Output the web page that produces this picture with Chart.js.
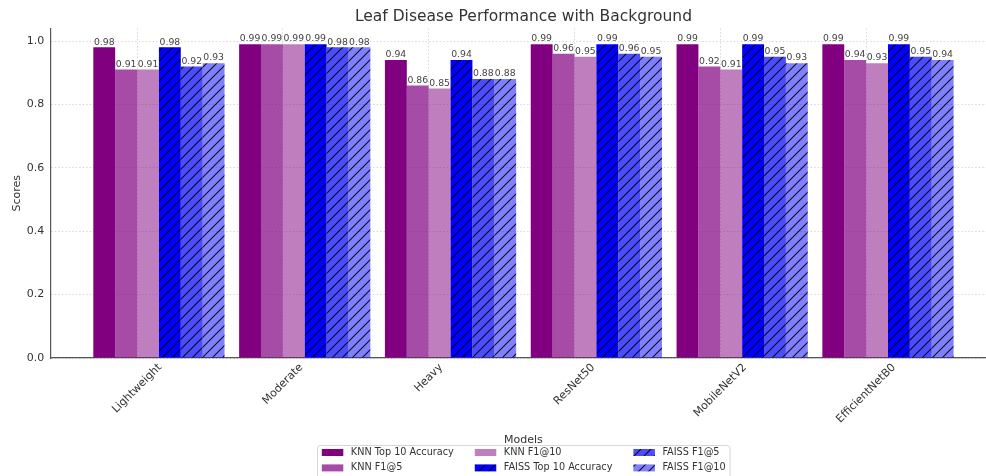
<!DOCTYPE html>
<html><head><meta charset="utf-8">
<script src="https://cdn.jsdelivr.net/npm/chart.js@4.4.1/dist/chart.umd.min.js"></script>
<style>
html,body{margin:0;padding:0;background:#fff;overflow:hidden;width:986px;height:476px}
#wrap{position:relative;width:1000px;height:476px}
</style></head>
<body><div id="wrap"><canvas id="c" width="1000" height="476"></canvas></div>
<script>
// ---- data ----
const categories = ['Lightweight','Moderate','Heavy','ResNet50','MobileNetV2','EfficientNetB0'];
const seriesNames = ['KNN Top 10 Accuracy','KNN F1@5','KNN F1@10','FAISS Top 10 Accuracy','FAISS F1@5','FAISS F1@10'];
const knnTop10   = [0.98,0.99,0.94,0.99,0.99,0.99];
const knnF1at5   = [0.91,0.99,0.86,0.96,0.92,0.94];
const knnF1at10  = [0.91,0.99,0.85,0.95,0.91,0.93];
const faissTop10 = [0.98,0.99,0.94,0.99,0.99,0.99];
const faissF1at5 = [0.92,0.98,0.88,0.96,0.95,0.95];
const faissF1at10= [0.93,0.98,0.88,0.95,0.93,0.94];
const yTicks = [0,0.2,0.4,0.6,0.8,1.0];
const seriesValues = [knnTop10,knnF1at5,knnF1at10,faissTop10,faissF1at5,faissF1at10];

// ---- styles ----
const baseRGB = ['128,0,128','128,0,128','128,0,128','0,0,255','0,0,255','0,0,255'];
const alphas = [1,0.7,0.5,1,0.7,0.5];
const hatched = [false,false,false,true,true,true];
const FONT = '"DejaVu Sans", "Liberation Sans", sans-serif';
const TXT = '#333';
const GRID = 'rgba(0,0,0,0.2)';

function hatchPattern(rgb, a){
  const s = 10;
  const c = document.createElement('canvas');
  c.width = s; c.height = s;
  const g = c.getContext('2d');
  g.fillStyle = `rgba(${rgb},${a})`;
  g.fillRect(0,0,s,s);
  g.strokeStyle = 'rgba(0,0,0,0.88)';
  g.lineWidth = 1.15;
  g.beginPath();
  g.moveTo(-1,s+1); g.lineTo(s+1,-1);
  g.moveTo(-1-s,s+1); g.lineTo(1,-1);
  g.moveTo(s-1,s+1); g.lineTo(2*s+1,-1);
  g.stroke();
  return document.getElementById('c').getContext('2d').createPattern(c,'repeat');
}
const fills = baseRGB.map((rgb,i)=> hatched[i] ? hatchPattern(rgb, alphas[i]) : `rgba(${rgb},${alphas[i]})`);

const datasets = seriesNames.map((name,i)=>({
  label: name,
  data: categories.map((c,k)=>({x:k, y:seriesValues[i][k]})),
  backgroundColor: fills[i],
  borderWidth: 0,
  categoryPercentage: 0.9,
  barPercentage: 1.0
}));

const mctx = document.createElement('canvas').getContext('2d');
mctx.font = '11px ' + FONT;
const GROUP_SHIFT = 0.15; // tick sits 0.15 category left of the group centre

// centre the 45° rotated tick labels on their ticks (matplotlib ha='center')
const centreRotated = {
  id:'centreRotated',
  beforeDraw(chart){
    const sc = chart.scales.x;
    sc.getLabelItems().forEach(it=>{
      if (it._shifted) return;
      const w = mctx.measureText(String(it.label)).width;
      it.options.translation[0] += 0.354 * w;
      it._shifted = true;
    });
  }
};

const valueLabels = {
  id:'valueLabels',
  afterDatasetsDraw(chart){
    const ctx = chart.ctx;
    ctx.save();
    ctx.font = '9.3px ' + FONT;
    ctx.fillStyle = '#444';
    ctx.textAlign = 'center';
    ctx.textBaseline = 'bottom';
    chart.data.datasets.forEach((ds,i)=>{
      const meta = chart.getDatasetMeta(i);
      meta.data.forEach((el,k)=>{
        ctx.fillText(ds.data[k].y.toFixed(2), el.x, el.y - 0.5);
      });
    });
    ctx.restore();
  }
};

const mplLegend = {
  id:'mplLegend',
  afterDraw(chart){
    const ctx = chart.ctx;
    ctx.save();
    ctx.font = '9.7px ' + FONT;
    const ds = chart.data.datasets;
    const cols = 3, rows = 2;
    const sw = 21.5, sh = 7, gap = 7.5, colGap = 21, pad = 4.3;
    const colW = [];
    for (let c=0;c<cols;c++){
      let m = 0;
      for (let r=0;r<rows;r++){ const d = ds[c*rows+r]; if (d) m = Math.max(m, ctx.measureText(d.label).width); }
      colW.push(m);
    }
    const total = colW.reduce((a,w)=>a+sw+gap+w,0) + colGap*(cols-1);
    const boxW = total + 2*pad;
    const cx = (chart.chartArea.left + chart.chartArea.right)/2;
    const left = Math.round(cx - boxW/2) + 0.5;
    const top = 445.5;
    ctx.beginPath();
    ctx.roundRect(left, top, boxW, 50, 3);
    ctx.fillStyle = 'rgba(255,255,255,0.8)';
    ctx.fill();
    ctx.strokeStyle = '#d6d6d6';
    ctx.lineWidth = 1;
    ctx.stroke();
    let x = left + pad;
    for (let c=0;c<cols;c++){
      for (let r=0;r<rows;r++){
        const d = ds[c*rows+r]; if (!d) continue;
        const yc = top + 7 + r*15.4;
        ctx.fillStyle = d.backgroundColor;
        ctx.fillRect(x, yc - sh/2, sw, sh);
        ctx.fillStyle = TXT;
        ctx.textBaseline = 'middle';
        ctx.textAlign = 'left';
        ctx.fillText(d.label, x + sw + gap, yc);
      }
      x += sw + gap + colW[c] + colGap;
    }
    ctx.restore();
  }
};

new Chart(document.getElementById('c'), {
  type:'bar',
  data:{ datasets },
  options:{
    responsive:false,
    animation:false,
    devicePixelRatio:1,
    layout:{ padding:{ left:0, right:3.4, top:0, bottom:29 } },
    plugins:{
      legend:{ display:false },
      tooltip:{ enabled:false },
      title:{
        display:true,
        text:'Leaf Disease Performance with Background',
        fullSize:false,
        color:TXT,
        font:{ family:FONT, size:15.5, weight:'normal', lineHeight:1.2 },
        padding:{ top:7.7, bottom:2.2 }
      }
    },
    scales:{
      x:{
        type:'linear',
        min:-0.745, max:5.745,
        offset:false,
        afterBuildTicks(axis){ axis.ticks = categories.map((c,k)=>({value:k - GROUP_SHIFT})); },
        afterFit(axis){ axis.height = 89; },
        ticks:{
          autoSkip:false,
          minRotation:45, maxRotation:45,
          padding:3,
          color:TXT,
          font:{ family:FONT, size:11 },
          callback:(v)=> categories[Math.round(v + GROUP_SHIFT)]
        },
        grid:{ display:true, offset:false, drawTicks:false, color:GRID, lineWidth:0.8 },
        border:{ display:true, color:'#555', width:1.2, dash:[1.5,2] },
        title:{ display:true, text:'Models', color:TXT, font:{ family:FONT, size:11 }, padding:{ top:0, bottom:0.5 } }
      },
      y:{
        type:'linear',
        min:0, max:1.0395,
        afterBuildTicks(axis){ axis.ticks = yTicks.map(v=>({value:v})); },
        afterFit(axis){ axis.width = 50.3; },
        ticks:{
          padding:6, color:TXT,
          font:{ family:FONT, size:11 },
          callback:(v)=> v.toFixed(1)
        },
        grid:{ display:true, offset:false, drawTicks:false, color:GRID, lineWidth:0.8 },
        border:{ display:true, color:'#555', width:1.2, dash:[1.5,2] },
        title:{ display:true, text:'Scores', color:TXT, font:{ family:FONT, size:11 }, padding:{ top:10.9, bottom:0 } }
      }
    }
  },
  plugins:[centreRotated, valueLabels, mplLegend]
});
</script>
</body></html>
